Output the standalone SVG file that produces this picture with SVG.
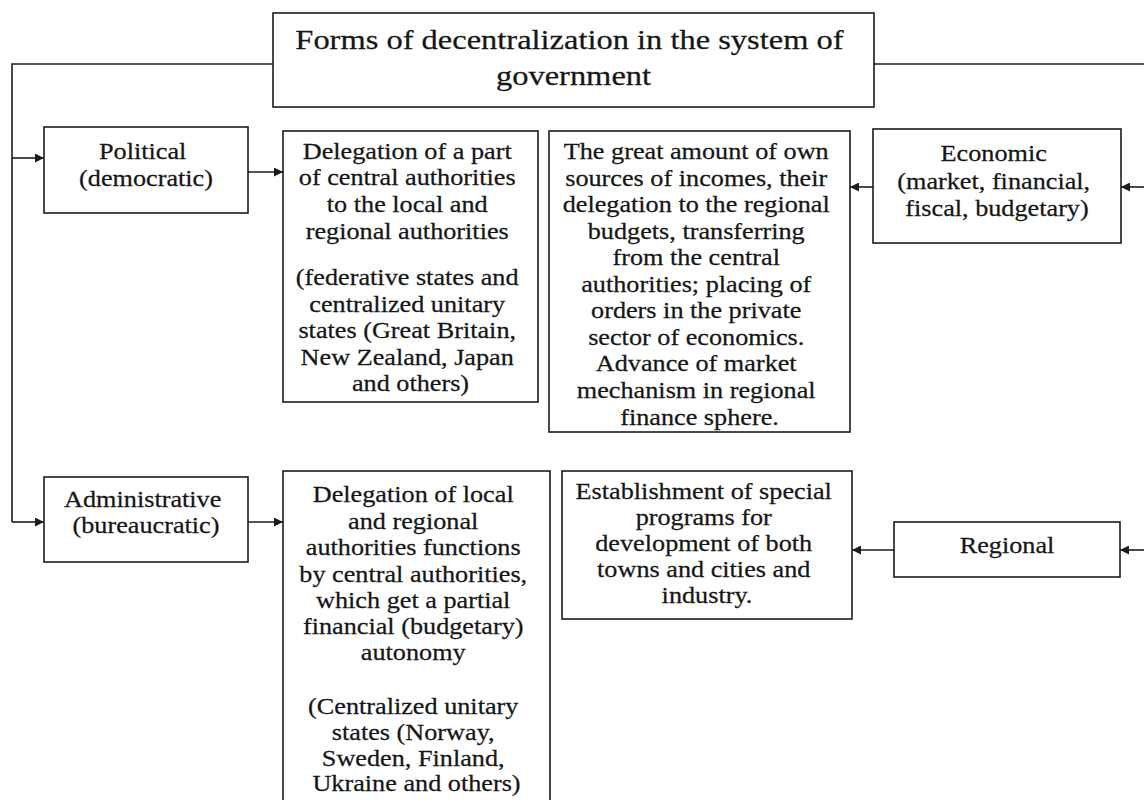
<svg xmlns="http://www.w3.org/2000/svg" width="1144" height="800" viewBox="0 0 1144 800">
<style>
  .box { fill: #ffffff; stroke: #1c1c1c; stroke-width: 1.6; }
  .ln { fill: none; stroke: #1c1c1c; stroke-width: 1.6; }
  .t { font-family: "Liberation Serif", "Times New Roman", serif; font-size: 23px; fill: #161616; stroke: #161616; stroke-width: 0.25; text-anchor: middle; }
  .tt { font-size: 28px; }
</style>
<defs>
  <marker id="ah" viewBox="0 0 10 10" refX="10" refY="5" markerWidth="10" markerHeight="9" markerUnits="userSpaceOnUse" orient="auto">
    <path d="M0,0 L10,5 L0,10 Z" fill="#1c1c1c"/>
  </marker>
</defs>
<rect width="1144" height="800" fill="#ffffff"/>

<g id="connectors">
  <path class="ln" d="M273,64 H12 V522"/>
  <path class="ln" d="M874,64 H1144"/>
  <path class="ln" d="M12,158 H44" marker-end="url(#ah)"/>
  <path class="ln" d="M12,522 H44" marker-end="url(#ah)"/>
  <path class="ln" d="M248,172 H283" marker-end="url(#ah)"/>
  <path class="ln" d="M248,522 H283" marker-end="url(#ah)"/>
  <path class="ln" d="M873,187 H850" marker-end="url(#ah)"/>
  <path class="ln" d="M1144,187 H1121" marker-end="url(#ah)"/>
  <path class="ln" d="M894,550 H852" marker-end="url(#ah)"/>
  <path class="ln" d="M1144,550 H1120" marker-end="url(#ah)"/>
</g>

<g id="title">
  <rect class="box" x="273" y="13" width="601" height="94"/>
  <text class="t tt" transform="translate(573.5,0) scale(1.16,1)">
    <tspan x="0" y="49">Forms of decentralization in the system of</tspan>
    <tspan x="0" y="85">government</tspan>
  </text>
</g>

<g id="political">
  <rect class="box" x="44" y="127" width="204" height="86"/>
  <text class="t" transform="translate(146,0) scale(1.14,1)">
    <tspan x="0" y="159">Political</tspan>
    <tspan x="0" y="186">(democratic)</tspan>
  </text>
</g>

<g id="political-desc">
  <rect class="box" x="283" y="131" width="255" height="271"/>
  <text class="t" transform="translate(410.5,0) scale(1.14,1)">
    <tspan x="0" y="159">Delegation of a part</tspan>
    <tspan x="0" y="185">of central authorities</tspan>
    <tspan x="0" y="212">to the local and</tspan>
    <tspan x="0" y="239">regional authorities</tspan>
    <tspan x="0" y="285">(federative states and</tspan>
    <tspan x="0" y="312">centralized unitary</tspan>
    <tspan x="0" y="338">states (Great Britain,</tspan>
    <tspan x="0" y="365">New Zealand, Japan</tspan>
    <tspan x="0" y="391">and others)</tspan>
  </text>
</g>

<g id="economic-desc">
  <rect class="box" x="549" y="131" width="301" height="301"/>
  <text class="t" transform="translate(699.5,0) scale(1.14,1)">
    <tspan x="0" y="159">The great amount of own</tspan>
    <tspan x="0" y="186">sources of incomes, their</tspan>
    <tspan x="0" y="212">delegation to the regional</tspan>
    <tspan x="0" y="239">budgets, transferring</tspan>
    <tspan x="0" y="265">from the central</tspan>
    <tspan x="0" y="292">authorities; placing of</tspan>
    <tspan x="0" y="318">orders in the private</tspan>
    <tspan x="0" y="345">sector of economics.</tspan>
    <tspan x="0" y="371">Advance of market</tspan>
    <tspan x="0" y="398">mechanism in regional</tspan>
    <tspan x="0" y="425">finance sphere.</tspan>
  </text>
</g>

<g id="economic">
  <rect class="box" x="873" y="129" width="248" height="114"/>
  <text class="t" transform="translate(997,0) scale(1.14,1)">
    <tspan x="0" y="161">Economic</tspan>
    <tspan x="0" y="189">(market, financial,</tspan>
    <tspan x="0" y="216">fiscal, budgetary)</tspan>
  </text>
</g>

<g id="administrative">
  <rect class="box" x="44" y="477" width="204" height="85"/>
  <text class="t" transform="translate(146,0) scale(1.14,1)">
    <tspan x="0" y="507">Administrative</tspan>
    <tspan x="0" y="533">(bureaucratic)</tspan>
  </text>
</g>

<g id="administrative-desc">
  <rect class="box" x="283" y="471" width="267" height="340"/>
  <text class="t" transform="translate(416.5,0) scale(1.14,1)">
    <tspan x="0" y="502">Delegation of local</tspan>
    <tspan x="0" y="529">and regional</tspan>
    <tspan x="0" y="555">authorities functions</tspan>
    <tspan x="0" y="582">by central authorities,</tspan>
    <tspan x="0" y="608">which get a partial</tspan>
    <tspan x="0" y="634">financial (budgetary)</tspan>
    <tspan x="0" y="660">autonomy</tspan>
    <tspan x="0" y="714">(Centralized unitary</tspan>
    <tspan x="0" y="740">states (Norway,</tspan>
    <tspan x="0" y="766">Sweden, Finland,</tspan>
    <tspan x="0" y="791">Ukraine and others)</tspan>
  </text>
</g>

<g id="regional-desc">
  <rect class="box" x="562" y="471" width="290" height="148"/>
  <text class="t" transform="translate(707,0) scale(1.14,1)">
    <tspan x="0" y="499">Establishment of special</tspan>
    <tspan x="0" y="525">programs for</tspan>
    <tspan x="0" y="551">development of both</tspan>
    <tspan x="0" y="577">towns and cities and</tspan>
    <tspan x="0" y="603">industry.</tspan>
  </text>
</g>

<g id="regional">
  <rect class="box" x="894" y="522" width="226" height="55"/>
  <text class="t" transform="translate(1007,0) scale(1.14,1)">
    <tspan x="0" y="553">Regional</tspan>
  </text>
</g>
</svg>
